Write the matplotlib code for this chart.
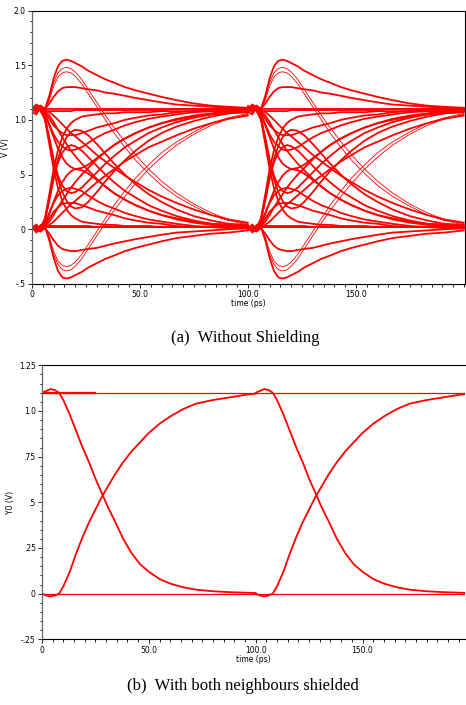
import numpy as np
import matplotlib
matplotlib.use("Agg")
import matplotlib.pyplot as plt
from matplotlib.ticker import MultipleLocator

RED = "#ff0000"

# ---- (a) without shielding: one unit interval (100 ps), repeated twice ----
ui_period = 100.0
t_a = [0, 2, 4, 6, 8, 10, 12, 14, 16, 18, 20, 23, 26, 30, 34, 38, 43, 48, 54, 60, 67, 75, 83, 91, 100]

# traces leaving the high level (~1.1 V)
hi_peak155 = [1.09, 1.14, 1.11, 1.10, 1.22, 1.38, 1.49, 1.54, 1.55, 1.54, 1.52, 1.49, 1.45, 1.41, 1.37, 1.34, 1.30, 1.27, 1.24, 1.21, 1.18, 1.15, 1.13, 1.12, 1.11]
hi_peak148 = [1.11, 1.06, 1.12, 1.09, 1.20, 1.34, 1.43, 1.47, 1.48, 1.47, 1.44, 1.37, 1.28, 1.16, 1.04, 0.93, 0.80, 0.68, 0.55, 0.44, 0.33, 0.23, 0.15, 0.09, 0.05]
hi_peak144 = [1.10, 1.13, 1.07, 1.10, 1.18, 1.31, 1.39, 1.43, 1.44, 1.43, 1.40, 1.33, 1.24, 1.12, 1.00, 0.88, 0.75, 0.63, 0.51, 0.40, 0.30, 0.21, 0.13, 0.08, 0.04]
hi_peak130 = [1.08, 1.12, 1.13, 1.10, 1.15, 1.21, 1.26, 1.29, 1.30, 1.30, 1.30, 1.29, 1.28, 1.27, 1.25, 1.24, 1.22, 1.20, 1.18, 1.16, 1.14, 1.13, 1.12, 1.11, 1.11]
hi_flat = [1.10, 1.13, 1.09, 1.10, 1.10, 1.10, 1.10, 1.10, 1.10, 1.10, 1.10, 1.10, 1.10, 1.10, 1.10, 1.10, 1.10, 1.10, 1.10, 1.10, 1.10, 1.10, 1.10, 1.10, 1.10]
hi_flat2 = [1.07, 1.05, 1.12, 1.08, 1.08, 1.08, 1.08, 1.08, 1.08, 1.08, 1.09, 1.09, 1.09, 1.09, 1.09, 1.09, 1.09, 1.09, 1.09, 1.09, 1.10, 1.10, 1.10, 1.10, 1.10]
hi_dip86 = [1.12, 1.07, 1.11, 1.07, 1.01, 0.95, 0.91, 0.88, 0.86, 0.86, 0.86, 0.88, 0.90, 0.93, 0.95, 0.97, 1.00, 1.02, 1.04, 1.05, 1.07, 1.08, 1.09, 1.09, 1.10]
hi_dip72 = [1.10, 1.14, 1.09, 1.05, 0.96, 0.87, 0.80, 0.76, 0.73, 0.72, 0.73, 0.75, 0.79, 0.84, 0.88, 0.91, 0.95, 0.98, 1.01, 1.03, 1.05, 1.07, 1.08, 1.09, 1.10]
hi_dip55 = [1.13, 1.08, 1.10, 1.05, 0.95, 0.84, 0.74, 0.66, 0.60, 0.57, 0.55, 0.56, 0.59, 0.65, 0.71, 0.77, 0.83, 0.88, 0.93, 0.97, 1.01, 1.04, 1.06, 1.08, 1.09]
hi_dip33 = [1.07, 1.12, 1.10, 1.02, 0.84, 0.64, 0.49, 0.40, 0.35, 0.33, 0.34, 0.38, 0.44, 0.52, 0.60, 0.67, 0.75, 0.81, 0.88, 0.93, 0.98, 1.02, 1.05, 1.07, 1.08]
hi_dip18 = [1.11, 1.09, 1.13, 1.01, 0.82, 0.62, 0.46, 0.34, 0.26, 0.21, 0.19, 0.20, 0.25, 0.34, 0.44, 0.53, 0.63, 0.72, 0.81, 0.88, 0.94, 0.99, 1.03, 1.06, 1.08]
hi_fall_fast = [1.10, 1.12, 1.08, 1.00, 0.78, 0.55, 0.38, 0.26, 0.18, 0.13, 0.10, 0.07, 0.06, 0.05, 0.04, 0.04, 0.03, 0.03, 0.03, 0.02, 0.02, 0.02, 0.02, 0.02, 0.02]
hi_fall_mid = [1.09, 1.11, 1.10, 1.08, 1.04, 0.98, 0.91, 0.84, 0.78, 0.72, 0.67, 0.60, 0.54, 0.46, 0.39, 0.33, 0.27, 0.22, 0.17, 0.13, 0.10, 0.07, 0.05, 0.04, 0.03]
hi_fall_slow = [1.12, 1.08, 1.11, 1.09, 1.07, 1.04, 1.00, 0.96, 0.92, 0.88, 0.85, 0.80, 0.75, 0.68, 0.62, 0.56, 0.49, 0.43, 0.36, 0.30, 0.24, 0.18, 0.13, 0.09, 0.06]

# traces leaving the low level (~0 V)
lo_dip045 = [0.03, -0.03, 0.01, 0.02, -0.10, -0.26, -0.38, -0.44, -0.45, -0.44, -0.42, -0.39, -0.35, -0.31, -0.27, -0.24, -0.20, -0.17, -0.14, -0.11, -0.08, -0.06, -0.04, -0.03, -0.01]
lo_dip038 = [0.01, 0.05, -0.02, 0.01, -0.09, -0.23, -0.32, -0.37, -0.38, -0.37, -0.34, -0.27, -0.18, -0.06, 0.06, 0.17, 0.30, 0.42, 0.55, 0.66, 0.77, 0.87, 0.95, 1.01, 1.05]
lo_dip034 = [0.02, -0.01, 0.04, 0.01, -0.07, -0.20, -0.29, -0.33, -0.34, -0.33, -0.30, -0.23, -0.14, -0.02, 0.10, 0.22, 0.35, 0.47, 0.59, 0.70, 0.80, 0.89, 0.97, 1.02, 1.06]
lo_dip020 = [0.04, -0.01, -0.02, 0.01, -0.04, -0.10, -0.15, -0.18, -0.19, -0.20, -0.20, -0.19, -0.18, -0.17, -0.15, -0.13, -0.11, -0.09, -0.07, -0.05, -0.03, -0.02, -0.01, 0.00, 0.01]
lo_flat = [0.02, -0.02, 0.04, 0.02, 0.02, 0.02, 0.02, 0.02, 0.02, 0.02, 0.02, 0.02, 0.02, 0.02, 0.02, 0.02, 0.02, 0.02, 0.02, 0.02, 0.02, 0.02, 0.02, 0.02, 0.02]
lo_flat2 = [0.00, 0.04, -0.01, 0.03, 0.03, 0.03, 0.03, 0.03, 0.03, 0.03, 0.03, 0.03, 0.03, 0.02, 0.02, 0.02, 0.02, 0.02, 0.02, 0.02, 0.02, 0.02, 0.02, 0.02, 0.02]
lo_bump25 = [0.00, 0.04, 0.00, 0.04, 0.10, 0.16, 0.20, 0.23, 0.24, 0.24, 0.24, 0.22, 0.20, 0.17, 0.15, 0.13, 0.10, 0.08, 0.06, 0.05, 0.03, 0.02, 0.02, 0.01, 0.01]
lo_bump38 = [0.02, -0.02, 0.03, 0.06, 0.15, 0.24, 0.31, 0.35, 0.37, 0.38, 0.37, 0.35, 0.31, 0.26, 0.22, 0.19, 0.15, 0.12, 0.09, 0.07, 0.05, 0.03, 0.02, 0.02, 0.01]
lo_bump55 = [-0.01, 0.03, 0.01, 0.05, 0.14, 0.25, 0.35, 0.43, 0.49, 0.53, 0.55, 0.54, 0.51, 0.45, 0.39, 0.33, 0.27, 0.22, 0.17, 0.13, 0.09, 0.06, 0.04, 0.03, 0.02]
lo_bump77 = [0.03, 0.00, 0.02, 0.08, 0.26, 0.46, 0.61, 0.70, 0.75, 0.77, 0.76, 0.72, 0.66, 0.58, 0.50, 0.43, 0.35, 0.29, 0.22, 0.17, 0.12, 0.08, 0.05, 0.04, 0.03]
lo_bump92 = [0.00, 0.02, -0.02, 0.09, 0.28, 0.48, 0.64, 0.76, 0.84, 0.89, 0.91, 0.90, 0.86, 0.78, 0.69, 0.60, 0.50, 0.41, 0.32, 0.25, 0.18, 0.12, 0.08, 0.05, 0.04]
lo_rise_fast = [0.01, -0.02, 0.02, 0.10, 0.32, 0.55, 0.72, 0.84, 0.92, 0.97, 1.00, 1.03, 1.04, 1.05, 1.06, 1.06, 1.07, 1.07, 1.07, 1.08, 1.08, 1.08, 1.08, 1.08, 1.08]
lo_rise_mid = [0.02, 0.00, 0.01, 0.03, 0.07, 0.13, 0.20, 0.26, 0.32, 0.38, 0.43, 0.50, 0.56, 0.64, 0.71, 0.77, 0.83, 0.88, 0.93, 0.97, 1.00, 1.03, 1.05, 1.06, 1.07]
lo_rise_slow = [0.00, 0.03, 0.00, 0.02, 0.04, 0.07, 0.11, 0.15, 0.19, 0.23, 0.26, 0.31, 0.36, 0.43, 0.49, 0.55, 0.62, 0.68, 0.75, 0.80, 0.86, 0.92, 0.97, 1.01, 1.04]

thick_a = [hi_peak155, hi_peak130, hi_flat, hi_flat2, hi_dip86, hi_dip72, hi_dip55, hi_dip33,
           hi_dip18, hi_fall_fast, hi_fall_mid, hi_fall_slow,
           lo_dip045, lo_dip020, lo_flat, lo_flat2, lo_bump25, lo_bump38, lo_bump55, lo_bump77,
           lo_bump92, lo_rise_fast, lo_rise_mid, lo_rise_slow]
thin_a = [hi_peak148, hi_peak144, lo_dip038, lo_dip034]

# ---- (b) both neighbours shielded ----
t_b = [0, 2, 4, 6, 8, 10, 13, 16, 19, 22, 25, 28, 31, 34, 38, 42, 46, 50, 55, 60, 66, 72, 80, 88, 96, 100]
b_rise = [0.00, -0.01, -0.015, -0.01, 0.00, 0.04, 0.12, 0.22, 0.31, 0.39, 0.46, 0.53, 0.59, 0.65, 0.72, 0.78, 0.83, 0.88, 0.93, 0.97, 1.01, 1.04, 1.06, 1.075, 1.09, 1.095]
b_fall = [1.10, 1.11, 1.12, 1.115, 1.10, 1.06, 0.98, 0.89, 0.80, 0.72, 0.63, 0.55, 0.47, 0.40, 0.30, 0.22, 0.16, 0.12, 0.08, 0.055, 0.035, 0.022, 0.013, 0.008, 0.005, 0.003]
b_hi = [1.10] * len(t_b)
b_lo = [0.0] * len(t_b)
b_hi_short_t = [0, 25]
b_hi_short = [1.10, 1.10]


fig = plt.figure(figsize=(4.66, 7.05), dpi=100)
ax1 = fig.add_axes([0.0687, 0.5972, 0.9293, 0.3879])
ax2 = fig.add_axes([0.0901, 0.0932, 0.9079, 0.3886])

ta = np.array(t_a)
for k in range(2):
    for y in thick_a:
        ax1.plot(ta + k * ui_period, y, color=RED, lw=1.3, solid_capstyle="round")
    for y in thin_a:
        ax1.plot(ta + k * ui_period, y, color=RED, lw=0.6)

tb = np.array(t_b)
for k in range(2):
    for y in (b_hi, b_lo):
        ax2.plot(tb + k * ui_period, y, color=RED, lw=0.9)
    for y in (b_rise, b_fall):
        ax2.plot(tb + k * ui_period, y, color=RED, lw=1.3)
ax2.plot(b_hi_short_t, b_hi_short, color=RED, lw=1.6)


def style(ax, xmax, ylo, yhi, yticks, ylabels, yminor, ylabel, right):
    ax.set_xlim(0, xmax)
    ax.set_ylim(ylo, yhi)
    ax.set_xticks([0, 50, 100, 150])
    ax.set_xticklabels(["0", "50.0", "100.0", "150.0"])
    ax.set_yticks(yticks)
    ax.set_yticklabels(ylabels)
    ax.xaxis.set_minor_locator(MultipleLocator(5))
    ax.yaxis.set_minor_locator(MultipleLocator(yminor))
    ax.tick_params(which="major", length=3, width=0.6, labelsize=5.5, pad=1.5)
    ax.tick_params(which="minor", length=1.8, width=0.6)
    ax.set_xlabel("time (ps)", fontsize=5.5, labelpad=0)
    ax.set_ylabel(ylabel, fontsize=5.5, labelpad=3)
    for s in ("top", "bottom"):
        ax.spines[s].set_linewidth(0.8)
    ax.spines["left"].set_color("#666666")
    ax.spines["left"].set_linewidth(0.9)
    ax.spines["right"].set_visible(right)
    ax.spines["right"].set_linewidth(0.8)


style(ax1, 200.5, -0.5, 2.0, [-0.5, 0, 0.5, 1.0, 1.5, 2.0],
      ["-.5", "0", ".5", "1.0", "1.5", "2.0"], 0.1, "V (V)", True)
style(ax2, 198, -0.25, 1.25, [-0.25, 0, 0.25, 0.5, 0.75, 1.0, 1.25],
      ["-.25", "0", ".25", ".5", ".75", "1.0", "1.25"], 0.05, "Y0 (V)", False)

cap = dict(fontsize=12, family="Liberation Serif", ha="center", va="center")
fig.text(245 / 466, 1 - 338 / 705, "(a)  Without Shielding", **cap)
fig.text(243 / 466, 1 - 686 / 705, "(b)  With both neighbours shielded", **cap)

fig.savefig("out.png", dpi=100)
